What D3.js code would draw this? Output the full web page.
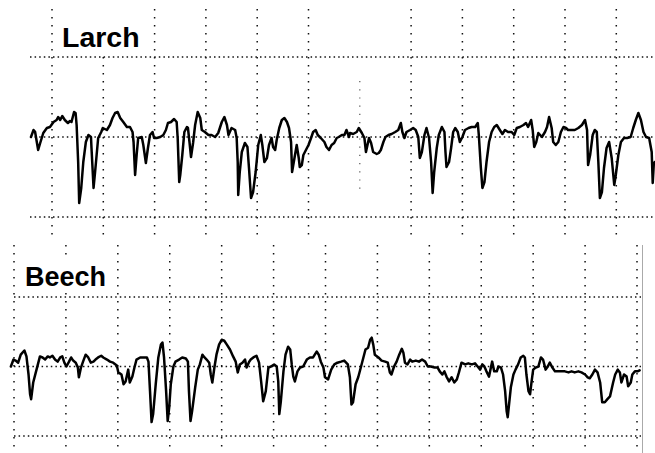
<!DOCTYPE html>
<html><head><meta charset="utf-8">
<script src="https://cdn.jsdelivr.net/npm/d3@7"></script>
<style>html,body{margin:0;padding:0;background:#fff;}svg{display:block;}</style>
</head><body><svg id="c" width="655" height="453"></svg>
<script>
// Larch trace: [time (grid divisions), amplitude]
const larch = [
[0.59,0],[0.64,1.75],[0.67,1.3],[0.73,-3.25],[0.77,-1.5],[0.83,1],[0.90,2.25],[0.96,2.5],[1.03,3.75],[1.09,4.25],
[1.12,5],[1.16,4.25],[1.20,5.25],[1.25,4.25],[1.31,3.5],[1.35,4],[1.38,3.75],[1.43,6.25],[1.46,6],[1.48,3],
[1.51,-6.25],[1.53,-16.5],[1.57,-12.75],[1.61,-6.25],[1.66,-1.25],[1.71,0.5],[1.76,0],[1.77,-2.75],[1.81,-12.75],[1.84,-8.75],
[1.87,-4.5],[1.90,-0.25],[1.96,1.25],[1.99,2.25],[2.07,1.75],[2.13,3],[2.18,4.75],[2.23,6],[2.28,6.25],[2.33,4.75],
[2.39,3.75],[2.46,2.5],[2.52,2.5],[2.57,1.25],[2.59,-1.25],[2.62,-9.5],[2.65,-4.5],[2.68,-0.25],[2.75,0],[2.78,-2],
[2.83,-6.5],[2.87,-2.75],[2.91,0.5],[2.96,1.25],[2.99,-0.25],[3.04,-0.25],[3.11,0],[3.17,0.5],[3.22,1.75],[3.26,3.5],
[3.32,3.75],[3.38,4.5],[3.43,3.75],[3.45,-0.25],[3.48,-11.25],[3.50,-9.5],[3.54,-4.5],[3.58,1.25],[3.63,2.5],[3.65,2.25],
[3.68,-1.25],[3.71,-5],[3.75,-1.5],[3.79,3],[3.84,6.25],[3.89,4.75],[3.92,1.75],[3.98,1.25],[4.05,0.5],[4.11,0.5],
[4.18,0],[4.24,1],[4.31,3.75],[4.36,5],[4.41,3],[4.44,0.5],[4.50,2.25],[4.57,1.75],[4.60,-0.25],[4.62,-6.25],
[4.63,-14.5],[4.66,-8.75],[4.70,-3.75],[4.76,-1.5],[4.81,-2.5],[4.84,-7.75],[4.88,-15.25],[4.92,-13.75],[4.97,-8.75],[5.02,-2],
[5.07,0.5],[5.10,-2],[5.14,-6.25],[5.19,-5.25],[5.23,-2],[5.28,-0.25],[5.31,-2.5],[5.35,-3.25],[5.38,-0.75],[5.43,2.25],
[5.48,4.25],[5.53,4.75],[5.58,3.75],[5.62,2.25],[5.66,-1.25],[5.68,-8.75],[5.72,-5.75],[5.77,-2],[5.81,-5.25],[5.83,-7.5],
[5.87,-7],[5.90,-4.5],[5.95,-3.25],[6.00,-2],[6.05,-0.25],[6.09,1.25],[6.14,1.75],[6.18,0.5],[6.24,-0.25],[6.31,-1.25],
[6.35,-2.5],[6.40,-3.25],[6.45,-2],[6.50,-1.5],[6.55,-0.25],[6.59,0],[6.65,0.5],[6.70,0.5],[6.74,1.75],[6.79,0],
[6.81,1],[6.87,0.75],[6.94,1.25],[6.98,2.25],[7.04,1],[7.09,-0.25],[7.12,-3.75],[7.15,-2],[7.18,-0.25],[7.22,-1.5],
[7.26,-3.75],[7.33,-4.25],[7.37,-4],[7.41,-3.25],[7.46,-1.25],[7.50,0],[7.56,0.5],[7.62,0.75],[7.69,1.25],[7.75,1.75],
[7.80,3.5],[7.83,1.25],[7.87,-0.25],[7.91,1.25],[7.98,1.75],[8.04,2.25],[8.09,1.75],[8.14,0],[8.17,-5.25],[8.21,-3.75],
[8.26,0.5],[8.30,2.25],[8.35,-0.25],[8.39,-6.25],[8.42,-14],[8.45,-8.75],[8.50,-2.75],[8.54,0.5],[8.60,2.5],[8.65,1.25],
[8.67,-3.75],[8.69,-7.5],[8.74,-6.25],[8.78,-2.75],[8.82,1.25],[8.86,2.25],[8.91,1.25],[8.95,-1.25],[9.00,0],[9.05,1.75],
[9.12,2.25],[9.18,2.5],[9.25,2.5],[9.30,3.5],[9.32,0.5],[9.36,-7.75],[9.39,-12.75],[9.43,-11.25],[9.47,-6.25],[9.52,-1.25],
[9.57,1.25],[9.62,2.5],[9.67,3],[9.73,1.75],[9.78,0.75],[9.83,1.75],[9.89,1.25],[9.96,1.25],[10.01,0.5],[10.06,2.25],
[10.12,2.5],[10.19,3],[10.24,3.5],[10.28,2.5],[10.34,4.25],[10.37,1.75],[10.40,-2.5],[10.44,-1.25],[10.48,1],[10.55,0],
[10.61,1.25],[10.65,2.5],[10.69,5],[10.74,2.25],[10.77,-1.25],[10.82,-2],[10.87,-1.25],[10.92,1.25],[10.97,2.5],[11.02,2.25],
[11.06,1.75],[11.13,1.75],[11.19,1.75],[11.26,2.25],[11.33,3],[11.39,4.25],[11.43,1.75],[11.45,-7],[11.49,-4.5],[11.54,0.5],
[11.58,1.75],[11.62,1.25],[11.65,-6.25],[11.68,-15.25],[11.72,-13.75],[11.76,-7.75],[11.81,-2.75],[11.86,-1.25],[11.91,-5.25],[11.96,-12],
[11.99,-9.5],[12.04,-4.5],[12.09,-1.25],[12.15,-0.25],[12.21,-0.25],[12.28,0],[12.33,2.25],[12.38,4.25],[12.43,6],[12.48,4.25],
[12.53,1.25],[12.58,0],[12.64,-0.25],[12.69,-3.75],[12.71,-11.5],[12.73,-7],[12.75,-6.25]
];
// Beech trace: [time (grid divisions), amplitude]
const beech = [
[-0.06,0],[-0.01,2],[0.03,1.7],[0.08,1.1],[0.13,3.4],[0.20,4.6],[0.24,2.9],[0.28,-2.3],[0.31,-8],[0.33,-9.4],
[0.37,-4.6],[0.42,-1.7],[0.46,0.6],[0.50,2.9],[0.55,2.6],[0.60,2],[0.65,2.9],[0.69,2.6],[0.74,3.1],[0.79,2],
[0.84,1.4],[0.89,2.6],[0.93,2.9],[0.97,1.1],[1.01,0],[1.06,1.4],[1.10,2.6],[1.14,1.7],[1.19,1.1],[1.23,-0.3],
[1.25,-3.1],[1.29,-0.3],[1.33,1.4],[1.38,3.4],[1.43,2.6],[1.48,1.1],[1.53,1.4],[1.57,2],[1.62,2.6],[1.68,3.1],
[1.72,2.6],[1.79,2],[1.85,1.4],[1.91,1.1],[1.98,0.3],[2.01,-1.7],[2.07,-2.3],[2.11,-5.1],[2.15,-4.3],[2.20,-0.9],
[2.23,-4.6],[2.28,-2.9],[2.32,-0.3],[2.36,2],[2.43,2.6],[2.49,2.6],[2.56,2.6],[2.59,1.4],[2.62,-7.1],[2.65,-16],
[2.68,-13.7],[2.73,-5.1],[2.78,2.6],[2.83,6.3],[2.86,6.9],[2.89,2.6],[2.93,-7.1],[2.96,-15.7],[2.99,-11.7],[3.02,-5.1],
[3.07,0],[3.11,1.4],[3.18,2],[3.24,2.6],[3.31,2.3],[3.35,1.4],[3.37,-7.1],[3.40,-15.7],[3.43,-12.9],[3.49,-6],
[3.54,-0.9],[3.58,0.6],[3.63,3.4],[3.67,2.6],[3.71,2],[3.76,1.1],[3.79,-2.3],[3.82,-4.6],[3.86,-0.3],[3.90,3.4],
[3.95,6.3],[4.00,7.7],[4.05,7.4],[4.10,6.3],[4.16,4.9],[4.22,2.9],[4.27,1.4],[4.31,-1.7],[4.35,0.6],[4.40,1.1],
[4.45,2],[4.48,-0.3],[4.53,1.4],[4.56,2],[4.61,2.6],[4.67,3.1],[4.72,1.1],[4.76,-4.3],[4.80,-10],[4.85,-7.1],
[4.90,-0.3],[4.95,0],[5.01,0.6],[5.06,0],[5.09,-4.3],[5.11,-13.7],[5.14,-10],[5.19,-1.4],[5.23,3.4],[5.28,5.7],
[5.32,4.9],[5.35,0.6],[5.38,-2.9],[5.41,-4.3],[5.46,-1.4],[5.51,-0.3],[5.57,0],[5.64,2],[5.70,2.6],[5.76,2.6],
[5.83,4.3],[5.87,3.4],[5.91,1.4],[5.96,-0.3],[5.99,-3.1],[6.05,-3.7],[6.11,-0.9],[6.17,0.6],[6.23,1.1],[6.30,1.4],
[6.36,1.7],[6.43,0.6],[6.47,-3.1],[6.50,-10.9],[6.53,-10.3],[6.58,-5.1],[6.63,-3.1],[6.68,-0.3],[6.73,2.6],[6.77,4.9],
[6.82,5.4],[6.86,7.7],[6.89,8.3],[6.92,6.3],[6.95,3.4],[7.02,2.6],[7.08,1.7],[7.15,1.4],[7.20,1.1],[7.24,-1.7],
[7.27,-2.3],[7.32,0],[7.37,1.4],[7.42,3.4],[7.47,5.1],[7.50,4],[7.53,1.1],[7.58,0.6],[7.63,2],[7.67,1.4],
[7.74,1.7],[7.80,1.4],[7.86,2],[7.92,1.4],[7.97,0],[8.03,0],[8.10,-0.3],[8.16,-0.3],[8.20,-1.4],[8.25,-2.3],
[8.29,-1.4],[8.33,-2.9],[8.38,-4.3],[8.43,-3.1],[8.48,-4.6],[8.53,-3.7],[8.57,-1.7],[8.62,1.1],[8.69,0.6],[8.75,0.9],
[8.82,0.6],[8.88,0.9],[8.93,0],[8.98,-0.9],[9.02,0.6],[9.06,0],[9.10,-1.4],[9.15,-2.9],[9.19,0],[9.21,1.4],
[9.25,-1.4],[9.30,-1.4],[9.33,0],[9.38,-0.3],[9.42,-2.3],[9.46,-7.1],[9.49,-12.9],[9.51,-14.6],[9.53,-11.7],[9.57,-6],
[9.62,-2.3],[9.66,-0.9],[9.71,0.6],[9.76,2.6],[9.81,3.1],[9.84,2.6],[9.87,-2.3],[9.91,-7.1],[9.94,-8],[9.97,-4.3],
[10.00,-0.9],[10.05,-0.3],[10.10,0],[10.15,2.6],[10.19,2],[10.24,-0.9],[10.28,0],[10.32,1.1],[10.37,-0.3],[10.42,-1.4],
[10.48,-1.4],[10.55,-1.4],[10.61,-1.4],[10.68,-1.7],[10.74,-1.4],[10.80,-1.7],[10.87,-1.4],[10.93,-1.7],[11.00,-2.3],[11.05,-3.1],
[11.09,-3.4],[11.14,-2.3],[11.19,-0.9],[11.24,-1.7],[11.29,-4.6],[11.33,-10.3],[11.38,-10.3],[11.43,-9.4],[11.48,-8.6],[11.51,-6.6],
[11.54,-4.6],[11.58,-2.3],[11.63,-0.9],[11.67,-1.7],[11.70,-4.6],[11.75,-2.3],[11.80,-2.9],[11.83,-5.7],[11.88,-4.6],[11.91,-2.3],
[11.96,-1.4],[12.01,-1.4],[12.05,-1.1]
];
const larchGridT = [1,2,3,4,5,6,8,9,10,11,12];
const larchFaintGridT = [7];
const beechGridT = [0,1,2,3,4,5,6,7,8,9,10,11,12];
const gridV = [-20, 0, 20];
const titles = ["Larch", "Beech"];

const svg = d3.select("#c");
svg.append("rect").attr("width",655).attr("height",453).attr("fill","#fff");

const panels = [
  { title: titles[0], data: larch, gridT: larchGridT, faintT: larchFaintGridT,
    x: d3.scaleLinear().domain([1, 12]).range([52, 616.3]),
    y: d3.scaleLinear().domain([-20, 20]).range([217, 57]),
    hx: [30, 655], vy: [9, 241], faintV: [14, -14],
    label: { x: 62, y: 47, size: 28.5 }, mask: [58, 4, 90, 51] },
  { title: titles[1], data: beech, gridT: beechGridT, faintT: [],
    x: d3.scaleLinear().domain([0, 12]).range([14, 637]),
    y: d3.scaleLinear().domain([-20, 20]).range([436, 297]),
    hx: [14, 641], vy: [245, 453], faintV: null,
    label: { x: 25, y: 286, size: 27 }, mask: [21, 261, 92, 31] }
];

panels.forEach(p => {
  const g = svg.append("g");
  g.selectAll("line.h").data(gridV).join("line")
    .attr("x1", p.hx[0]).attr("x2", p.hx[1])
    .attr("y1", d => p.y(d)).attr("y2", d => p.y(d))
    .attr("stroke", "#111").attr("stroke-width", 1.6)
    .attr("stroke-dasharray", "1.5,3.1");
  g.selectAll("line.v").data(p.gridT).join("line")
    .attr("x1", d => p.x(d)).attr("x2", d => p.x(d))
    .attr("y1", p.vy[0]).attr("y2", p.vy[1])
    .attr("stroke", "#111").attr("stroke-width", 1.5)
    .attr("stroke-dasharray", "1.6,6.4");
  if (p.faintV) {
    g.selectAll("line.f").data(p.faintT).join("line")
      .attr("x1", d => p.x(d)).attr("x2", d => p.x(d))
      .attr("y1", p.y(p.faintV[0])).attr("y2", p.y(p.faintV[1]))
      .attr("stroke", "#555").attr("stroke-width", 1.2)
      .attr("stroke-dasharray", "1.2,7");
  }
  g.append("rect").attr("x", p.mask[0]).attr("y", p.mask[1])
    .attr("width", p.mask[2]).attr("height", p.mask[3]).attr("fill", "#fff");
  g.append("text").attr("x", p.label.x).attr("y", p.label.y)
    .attr("font-family", "'Liberation Sans', Arial, sans-serif")
    .attr("font-weight", "bold").attr("font-size", p.label.size)
    .attr("fill", "#000").text(p.title);
  const line = d3.line().x(d => p.x(d[0])).y(d => p.y(d[1]));
  g.append("path").datum(p.data).attr("d", line)
    .attr("fill", "none").attr("stroke", "#000").attr("stroke-width", 2.5)
    .attr("stroke-linejoin", "round").attr("stroke-linecap", "round");
});
svg.append("line").attr("x1", 642.5).attr("x2", 642.5).attr("y1", 245).attr("y2", 453)
  .attr("stroke", "#aaa").attr("stroke-width", 1);
</script></body></html>
